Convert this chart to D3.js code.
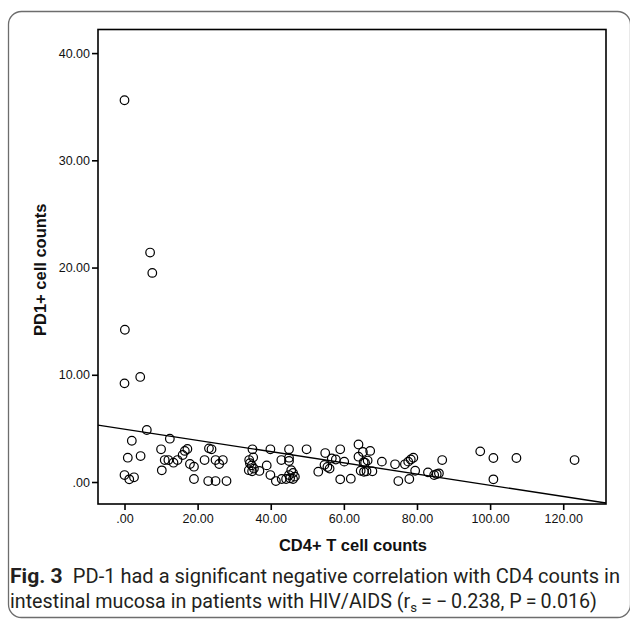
<!DOCTYPE html>
<html>
<head>
<meta charset="utf-8">
<script src="https://cdn.jsdelivr.net/npm/d3@7"></script>
<style>
  html, body { margin: 0; padding: 0; background: #fff; }
  svg { display: block; }
</style>
</head>
<body>
<svg id="chart" width="630" height="620"></svg>
<script>
// ---- data ----
const cd4 = [0, 7.0, 7.6, 0.1, 0, 4.3, 6.1, 2.0, 12.4, 0.9, 4.4, 10.0, 16.5, 17.2, 11.0, 12.0, 13.4, 14.5, 15.9, 17.9,
  19.0, 10.2, 0, 1.3, 2.6, 19.0, 21.9, 23.1, 23.8, 24.9, 25.9, 26.9, 22.9, 24.9, 27.9, 35.0, 34.1, 35.2, 34.3, 34.8,
  34.0, 35.4, 34.9, 36.9, 39.9, 38.9, 39.9, 41.4, 42.9, 43.0, 45.0, 45.0, 45.0, 45.6, 46.1, 45.0, 46.6, 45.3, 46.1, 44.2,
  49.8, 53.0, 54.9, 54.7, 55.5, 56.1, 56.7, 57.8, 59.0, 60.1, 59.0, 61.9, 64.0, 64.0, 65.2, 67.2, 65.4, 66.5, 65.8, 64.6,
  65.5, 66.2, 67.8, 70.4, 74.0, 74.9, 77.9, 76.7, 77.6, 78.3, 79.0, 79.5, 83.0, 84.7, 85.4, 86.0, 86.9, 97.3, 100.9, 100.9,
  107.2, 123.1];
const pd1 = [35.6, 21.4, 19.5, 14.2, 9.2, 9.8, 4.85, 3.85, 4.04, 2.27, 2.42, 3.05, 2.9, 3.08, 2.05, 2.05, 1.8, 2.05, 2.52, 1.68,
  1.43, 1.09, 0.65, 0.25, 0.44, 0.28, 2.05, 3.14, 3.05, 2.05, 1.68, 2.05, 0.09, 0.09, 0.09, 3.05, 2.05, 2.3, 1.75, 1.55,
  1.1, 1.25, 1.0, 1.03, 3.05, 1.55, 0.65, 0.09, 2.05, 0.28, 3.05, 2.27, 1.96, 1.1, 0.85, 0.65, 0.5, 0.35, 0.28, 0.28,
  3.05, 0.96, 2.7, 1.6, 1.4, 1.25, 2.2, 2.1, 3.05, 1.9, 0.25, 0.31, 3.5, 2.36, 2.8, 2.9, 1.85, 2.0, 1.8, 1.05,
  0.95, 1.0, 1.0, 1.9, 1.65, 0.09, 0.28, 1.65, 1.9, 2.1, 2.27, 1.05, 0.9, 0.65, 0.74, 0.81, 2.05, 2.86, 2.24, 0.25,
  2.24, 2.05];
const xTicks = [0, 20, 40, 60, 80, 100, 120];
const yTicks = [0, 10, 20, 30, 40];
const fitIntercept = 4.93;
const fitSlope = -0.0523;
const xTitle = "CD4+ T cell counts";
const yTitle = "PD1+ cell counts";
const captionBold = "Fig. 3";
const captionLine1 = "PD-1 had a significant negative correlation with CD4 counts in";
const captionLine2a = "intestinal mucosa in patients with HIV/AIDS (r";
const captionSub = "s";
const captionLine2b = "\u2009=\u2009\u2212\u20090.238, P\u2009=\u20090.016)";

// ---- layout ----
const svg = d3.select("#chart");
const plot = { left: 98, right: 606, top: 29.5, bottom: 504 };
const x = d3.scaleLinear().domain([-7.25, 131.7]).range([plot.left, plot.right]);
const y = d3.scaleLinear().domain([-2.05, 42.2]).range([plot.bottom, plot.top]);
const fmt = v => v === 0 ? ".00" : d3.format(".2f")(v);

// outer rounded panel border
svg.append("rect")
  .attr("x", 8.5).attr("y", 11.5).attr("width", 622).attr("height", 606)
  .attr("rx", 13).attr("ry", 13)
  .attr("fill", "none").attr("stroke", "#6d6d6d").attr("stroke-width", 1.3);

// clip for regression line
svg.append("clipPath").attr("id", "clip")
  .append("rect").attr("x", plot.left).attr("y", plot.top)
  .attr("width", plot.right - plot.left).attr("height", plot.bottom - plot.top);

// axes
const yAxis = d3.axisLeft(y).tickValues(yTicks).tickFormat(fmt).tickSize(6).tickPadding(2);
const xAxis = d3.axisBottom(x).tickValues(xTicks).tickFormat(fmt).tickSize(6).tickPadding(4);

const gy = svg.append("g").attr("transform", `translate(${plot.left},0)`).call(yAxis);
const gx = svg.append("g").attr("transform", `translate(0,${plot.bottom})`).call(xAxis);
[gx, gy].forEach(g => {
  g.select(".domain").remove();
  g.selectAll(".tick line").attr("stroke", "#000").attr("stroke-width", 1.6);
  g.selectAll(".tick text").attr("fill", "#111")
    .style("font-family", "Arial, 'Liberation Sans', sans-serif").style("font-size", "12.5px");
});

// regression line
svg.append("line")
  .attr("clip-path", "url(#clip)")
  .attr("x1", x(x.domain()[0])).attr("y1", y(fitIntercept + fitSlope * x.domain()[0]))
  .attr("x2", x(x.domain()[1])).attr("y2", y(fitIntercept + fitSlope * x.domain()[1]))
  .attr("stroke", "#000").attr("stroke-width", 1.3);

// points
svg.append("g").selectAll("circle")
  .data(cd4.map((v, i) => [v, pd1[i]]))
  .join("circle")
  .attr("cx", d => x(d[0])).attr("cy", d => y(d[1])).attr("r", 4.3)
  .attr("fill", "none").attr("stroke", "#000").attr("stroke-width", 1.2);

// frame
svg.append("rect")
  .attr("x", plot.left).attr("y", plot.top)
  .attr("width", plot.right - plot.left).attr("height", plot.bottom - plot.top)
  .attr("fill", "none").attr("stroke", "#000").attr("stroke-width", 1.6);

// axis titles
svg.append("text")
  .attr("x", (plot.left + plot.right) / 2 + 1).attr("y", 551)
  .attr("text-anchor", "middle")
  .style("font-family", "Arial, 'Liberation Sans', sans-serif").style("font-size", "16.5px").style("font-weight", "bold")
  .attr("fill", "#111").text(xTitle);
svg.append("text")
  .attr("transform", `translate(46,${(plot.top + plot.bottom) / 2 + 3}) rotate(-90)`)
  .attr("text-anchor", "middle")
  .style("font-family", "Arial, 'Liberation Sans', sans-serif").style("font-size", "16.5px").style("font-weight", "bold")
  .attr("fill", "#111").text(yTitle);

// caption
const capFont = "Roboto, 'Noto Sans', sans-serif";
const c1 = svg.append("text").attr("x", 10).attr("y", 583)
  .style("font-family", capFont).style("font-size", "19.5px").attr("fill", "#231f20");
c1.append("tspan").style("font-weight", "bold").style("font-size", "20.5px").text(captionBold);
c1.append("tspan").text("\u2002" + captionLine1);
const c2 = svg.append("text").attr("x", 10).attr("y", 608)
  .style("font-family", capFont).style("font-size", "19.5px").attr("fill", "#231f20");
c2.append("tspan").text(captionLine2a);
c2.append("tspan").attr("dy", 4).style("font-size", "13px").text(captionSub);
c2.append("tspan").attr("dy", -4).text(captionLine2b);

// fit caption widths to reference
function fitWidth(t, w) {
  const len = t.node().getComputedTextLength();
  if (len > 0) t.attr("textLength", w).attr("lengthAdjust", "spacingAndGlyphs");
}
fitWidth(c1, 610);
fitWidth(c2, 587);
</script>
</body>
</html>
